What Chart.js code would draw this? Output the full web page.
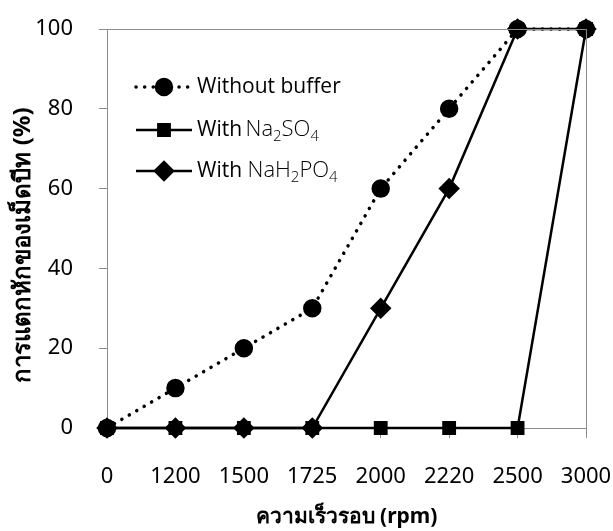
<!DOCTYPE html>
<html>
<head>
<meta charset="utf-8">
<script src="https://cdn.jsdelivr.net/npm/chart.js@4.4.1/dist/chart.umd.min.js"></script>
<style>
html,body{margin:0;padding:0;background:#fff;}
#wrap{position:relative;width:613px;height:531px;}
</style>
</head>
<body>
<div id="wrap"><canvas id="c" width="613" height="531"></canvas></div>
<script>
const categories = ['0','1200','1500','1725','2000','2220','2500','3000'];
const withoutBuffer = [0,10,20,30,60,80,100,100];
const withNa2SO4 = [0,0,0,0,0,0,0,100];
const withNaH2PO4 = [0,0,0,0,30,60,100,100];
const yMin = 0, yMax = 100, yStep = 20;
const xTitle = 'ความเร็วรอบ (rpm)';
const yTitle = 'การแตกหักของเม็ดบีท (%)';
// legend label pieces: [text, isSubscript, weight]
const legendLabels = [
  [['Without buffer', false, '500']],
  [['With ', false, '500'], ['Na', false, '300'], ['2', true, '300'], ['SO', false, '300'], ['4', true, '300']],
  [['With ', false, '500'], ['NaH', false, '300'], ['2', true, '300'], ['PO', false, '300'], ['4', true, '300']]
];

const FONT = "'Noto Sans', 'DejaVu Sans', sans-serif";
const LFONT = "'Open Sans', 'Noto Sans', sans-serif";
const AXIS = '#8c8c8c';

const frame = {
  id: 'frame',
  afterDatasetsDraw(chart) {
    const {ctx, chartArea: a} = chart;
    ctx.save();
    ctx.strokeStyle = AXIS; ctx.lineWidth = 1;
    ctx.beginPath();
    ctx.moveTo(a.left, a.top + 0.5); ctx.lineTo(a.right + 0.5, a.top + 0.5); ctx.lineTo(a.right + 0.5, a.bottom);
    ctx.stroke();
    ctx.restore();
  },
  afterDraw(chart) {
    const {ctx} = chart;
    ctx.save();
    // y axis title
    ctx.save();
    ctx.translate(23, 245);
    ctx.rotate(-Math.PI / 2);
    ctx.font = 'bold 24px ' + FONT;
    ctx.fillStyle = '#000';
    ctx.textAlign = 'center';
    ctx.textBaseline = 'middle';
    ctx.fillText(yTitle, 0, 0);
    ctx.restore();
    const rows = [87, 130, 171];
    chart.data.datasets.forEach((ds, i) => {
      const y = rows[i];
      ctx.strokeStyle = '#000';
      ctx.lineWidth = ds.borderWidth;
      ctx.lineCap = ds.borderCapStyle || 'butt';
      ctx.setLineDash(ds.borderDash || []);
      ctx.beginPath(); ctx.moveTo(136, y); ctx.lineTo(192, y); ctx.stroke();
      ctx.setLineDash([]);
      Chart.helpers.drawPoint(ctx, {pointStyle: ds.pointStyle, radius: ds.pointRadius, rotation: 0, borderWidth: 1}, 164, y);
      let x = 197;
      ctx.fillStyle = '#000';
      ctx.textBaseline = 'middle';
      legendLabels[i].forEach(([t, sub, w]) => {
        const size = sub ? 15 : (w === '300' ? 22 : 21);
        ctx.font = w + ' ' + size + 'px ' + LFONT;
        ctx.fillText(t, x, sub ? y + 7 : y);
        x += ctx.measureText(t).width + (t === 'With ' && i === 1 ? -2 : 0);
      });
    });
    ctx.restore();
  }
};

function noPad(s) { s.paddingTop = 0; s.paddingBottom = 0; s.paddingLeft = 0; s.paddingRight = 0; }

new Chart(document.getElementById('c'), {
  type: 'line',
  data: {
    labels: categories,
    datasets: [
      {label: 'Without buffer', data: withoutBuffer, borderColor: '#000', backgroundColor: '#000',
       borderWidth: 3.5, borderDash: [0.1, 8.5], borderCapStyle: 'round', pointStyle: 'circle', pointRadius: 7.5,
       pointBorderColor: '#000', pointBackgroundColor: '#000', clip: false, tension: 0, order: 0},
      {label: 'With Na2SO4', data: withNa2SO4, borderColor: '#000', backgroundColor: '#000',
       borderWidth: 2.5, pointStyle: 'rect', pointRadius: 8, pointBorderColor: '#000', pointBackgroundColor: '#000',
       clip: false, tension: 0, order: 2},
      {label: 'With NaH2PO4', data: withNaH2PO4, borderColor: '#000', backgroundColor: '#000',
       borderWidth: 2.5, pointStyle: 'rectRot', pointRadius: 9, pointBorderColor: '#000', pointBackgroundColor: '#000',
       clip: false, tension: 0, order: 1}
    ]
  },
  options: {
    responsive: false,
    animation: false,
    layout: {autoPadding: false, padding: {left: 0, right: 27, top: 29, bottom: 0}},
    plugins: {legend: {display: false}, tooltip: {enabled: false}},
    scales: {
      x: {
        offset: false,
        grid: {display: true, drawOnChartArea: false, drawTicks: true, tickLength: 10, color: AXIS},
        border: {color: AXIS, width: 1},
        ticks: {color: '#000', font: {family: FONT, size: 22}, padding: 26, maxRotation: 0, autoSkip: false},
        title: {display: true, text: xTitle, color: '#000', font: {family: FONT, size: 21, weight: 'bold'}, padding: {top: 0, bottom: 1}},
        afterFit(s) { s.height = 103; noPad(s); }
      },
      y: {
        min: yMin, max: yMax,
        grid: {display: true, drawOnChartArea: false, drawTicks: true, tickLength: 8, color: AXIS},
        border: {color: AXIS, width: 1},
        ticks: {stepSize: yStep, color: '#000', font: {family: FONT, size: 22}, padding: 26},
        title: {display: false, text: yTitle},
        afterFit(s) { s.width = 107; noPad(s); }
      }
    }
  },
  plugins: [frame]
});
</script>
</body>
</html>
